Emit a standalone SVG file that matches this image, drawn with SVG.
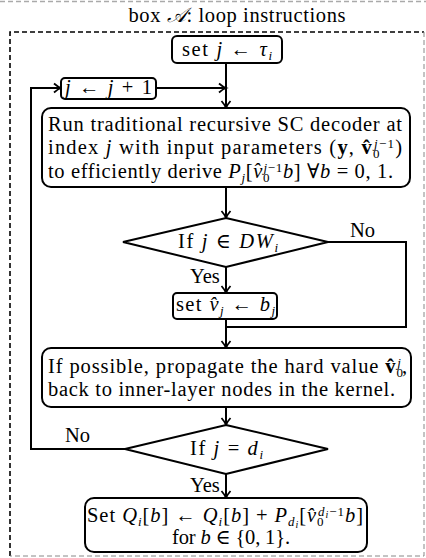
<svg xmlns="http://www.w3.org/2000/svg" width="426" height="558" viewBox="0 0 426 558">
<style>
text{font-family:"Liberation Serif","DejaVu Serif",serif;font-size:20.5px;fill:#000}
.i{font-style:italic}
.s{font-size:13px}
.ss{font-size:10px;font-style:italic}
.b{font-weight:bold}
.box{fill:#fff;stroke:#000;stroke-width:2}
.ln{fill:none;stroke:#000;stroke-width:2}
.arr{fill:none;stroke:#000;stroke-width:2;marker-end:url(#ah)}
</style>
<defs>
<marker id="ah" markerUnits="userSpaceOnUse" viewBox="-8 -5 9 10" refX="0" refY="0" markerWidth="9" markerHeight="10" orient="auto" overflow="visible">
<path d="M-7,-4.5 Q-3,-1 0,0 Q-3,1 -7,4.5" fill="none" stroke="#000" stroke-width="1.8"/>
</marker>
</defs>
<rect width="426" height="558" fill="#fff"/>
<line x1="0" y1="1.5" x2="426" y2="1.5" stroke="#aaa" stroke-width="1.5" stroke-dasharray="5 3"/>
<g id="frame">
<text x="237" y="22" text-anchor="middle" textLength="217" lengthAdjust="spacing">box <tspan class="i">𝒜</tspan>: loop instructions</text>
<path d="M10,556 V32 H424" fill="none" stroke="#000" stroke-width="1.6" stroke-dasharray="5 3"/>
<path d="M424,32 V556 H10" fill="none" stroke="#888" stroke-width="1" stroke-dasharray="5 3"/>
</g>
<g id="connectors">
<line class="arr" x1="226" y1="63" x2="226" y2="108"/>
<line class="arr" x1="156" y1="88" x2="226" y2="88"/>
<polyline class="arr" points="125,449 31,449 31,88 61,88"/>
<line class="arr" x1="226" y1="187" x2="226" y2="218"/>
<line class="arr" x1="226" y1="267" x2="226" y2="293"/>
<polyline class="ln" points="328,242 406,242 406,327 226,327"/>
<line class="arr" x1="226" y1="319" x2="226" y2="348"/>
<line class="arr" x1="226" y1="407" x2="226" y2="425"/>
<line class="arr" x1="226" y1="474" x2="226" y2="498"/>
<text x="350" y="237">No</text>
<text x="190" y="283">Yes</text>
<text x="65" y="442">No</text>
<text x="190" y="492">Yes</text>
</g>
<g id="set-j">
<rect class="box" x="172" y="36" width="110" height="27" rx="5"/>
<text x="182" y="56" textLength="90" lengthAdjust="spacing">set <tspan class="i">j</tspan> ← <tspan class="i">τ</tspan><tspan class="i s" dy="4">i</tspan></text>
</g>
<g id="inc-j">
<rect class="box" x="61" y="78" width="95" height="21" rx="4"/>
<text x="65" y="94" textLength="87" lengthAdjust="spacing"><tspan class="i">j</tspan> ← <tspan class="i">j</tspan> + 1</text>
</g>
<g id="run-sc">
<rect class="box" x="42" y="108" width="368" height="79" rx="9"/>
<text x="48" y="131" textLength="354" lengthAdjust="spacing">Run traditional recursive SC decoder at</text>
<text x="48" y="154" textLength="354" lengthAdjust="spacing">index <tspan class="i">j</tspan> with input parameters (<tspan class="b">y</tspan>, <tspan class="b">v̂</tspan><tspan class="s" dy="4">0</tspan><tspan class="i s" dx="-6.5" dy="-10">j</tspan><tspan class="s">−1</tspan><tspan dy="6">)</tspan></text>
<text x="48" y="177.5" textLength="345" lengthAdjust="spacing">to efficiently derive <tspan class="i">P</tspan><tspan class="i s" dy="4">j</tspan><tspan dy="-4">[</tspan><tspan class="i">v̂</tspan><tspan class="s" dy="4">0</tspan><tspan class="i s" dx="-6.5" dy="-10">j</tspan><tspan class="s">−1</tspan><tspan class="i" dy="6">b</tspan>] ∀<tspan class="i">b</tspan> = 0, 1.</text>
</g>
<g id="if-dw">
<polygon class="box" points="226,218 328,242 226,267 123,242"/>
<text x="178" y="248" textLength="100" lengthAdjust="spacing">If <tspan class="i">j</tspan> ∈ <tspan class="i">DW</tspan><tspan class="i s" dy="4">i</tspan></text>
</g>
<g id="set-v">
<rect class="box" x="173" y="293" width="104" height="26" rx="4"/>
<text x="176" y="311" textLength="99" lengthAdjust="spacing">set <tspan class="i">v̂</tspan><tspan class="i s" dy="4">j</tspan><tspan dy="-4"> ← </tspan><tspan class="i">b</tspan><tspan class="i s" dy="4">j</tspan></text>
</g>
<g id="propagate">
<rect class="box" x="42" y="348" width="369" height="59" rx="9"/>
<text x="48" y="373" textLength="359" lengthAdjust="spacing">If possible, propagate the hard value <tspan class="b">v̂</tspan><tspan class="s" dy="4">0</tspan><tspan class="i s" dx="-6.5" dy="-10">j</tspan><tspan dy="6">,</tspan></text>
<text x="48" y="396" textLength="347" lengthAdjust="spacing">back to inner-layer nodes in the kernel.</text>
</g>
<g id="if-d">
<polygon class="box" points="226,425 328,449 226,474 125,449"/>
<text x="190" y="455" textLength="73" lengthAdjust="spacing">If <tspan class="i">j</tspan> = <tspan class="i">d</tspan><tspan class="i s" dy="4">i</tspan></text>
</g>
<g id="set-q">
<rect class="box" x="85" y="498" width="282" height="54" rx="9"/>
<text x="87" y="522" textLength="276" lengthAdjust="spacing">Set <tspan class="i">Q</tspan><tspan class="i s" dy="4">i</tspan><tspan dy="-4">[</tspan><tspan class="i">b</tspan>] ← <tspan class="i">Q</tspan><tspan class="i s" dy="4">i</tspan><tspan dy="-4">[</tspan><tspan class="i">b</tspan>] + <tspan class="i">P</tspan><tspan class="i s" dy="4">d</tspan><tspan class="ss" dy="2">i</tspan><tspan dy="-6">[</tspan><tspan class="i">v̂</tspan><tspan class="s" dy="4">0</tspan><tspan class="i s" dx="-6.5" dy="-10">d</tspan><tspan class="ss" dy="2">i</tspan><tspan class="s" dy="-2">−1</tspan><tspan class="i" dy="6">b</tspan>]</text>
<text x="172" y="544" textLength="118" lengthAdjust="spacing">for <tspan class="i">b</tspan> ∈ {0, 1}.</text>
</g>
</svg>
